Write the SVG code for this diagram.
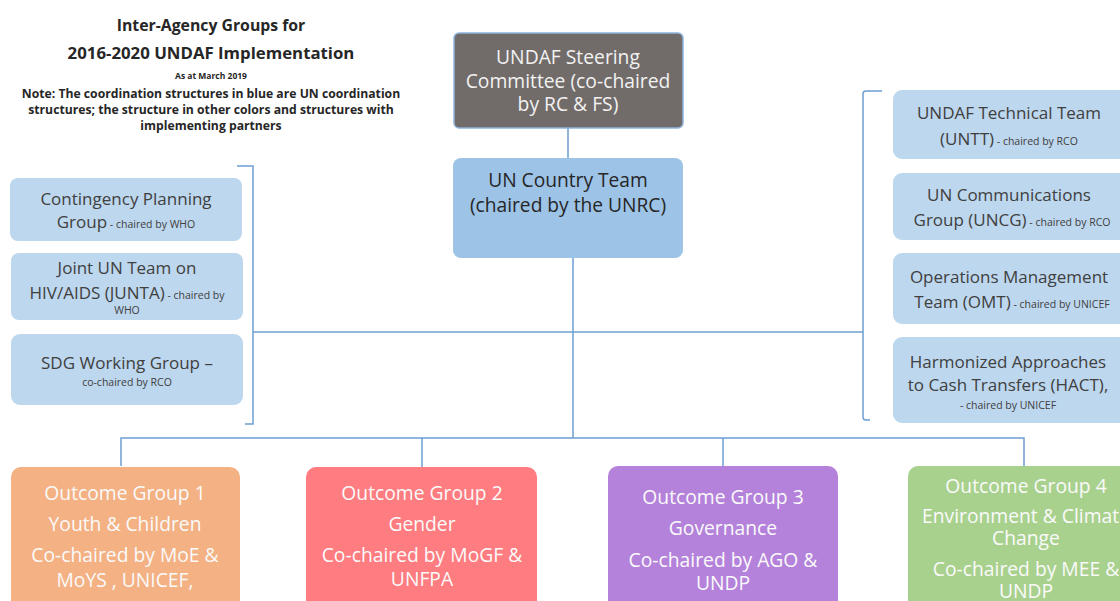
<svg xmlns="http://www.w3.org/2000/svg" width="1120" height="601" viewBox="0 0 1120 601">
<style>
text{font-family:"Open Sans","Noto Sans","Liberation Sans",sans-serif;text-anchor:middle}
.t{font-weight:bold;fill:#262626}
.b{fill:#bdd7ee}
.n{font-size:17px;fill:#404040}
.s{font-size:10.5px;fill:#404040}
.w{fill:#fafafa;font-size:19.3px}
.c{fill:none;stroke:#6e9fd2;stroke-width:1.5}
</style>
<rect width="1120" height="601" fill="#fff"/>
<g id="title">
<text class="t" x="211" y="31" font-size="15.8">Inter-Agency Groups for</text>
<text class="t" x="211" y="59" font-size="16.8">2016-2020 UNDAF Implementation</text>
<text class="t" x="211" y="79" font-size="8.5">As at March 2019</text>
<text class="t" x="211" y="98" font-size="12.2">Note: The coordination structures in blue are UN coordination</text>
<text class="t" x="211" y="114" font-size="12.2">structures; the structure in other colors and structures with</text>
<text class="t" x="211" y="130" font-size="12.2">implementing partners</text>
</g>
<g id="connectors">
<line class="c" x1="568" y1="128" x2="568" y2="158"/>
<line class="c" x1="573" y1="258" x2="573" y2="438"/>
<line class="c" x1="253" y1="332" x2="863" y2="332"/>
<path class="c" d="M237 166 H253 V424 H245"/>
<path class="c" d="M882 91 H866 Q863 91 863 94 V417 Q863 420 866 420 H870"/>
<path class="c" d="M121 466 V438 H1024 V466"/>
<line class="c" x1="422" y1="438" x2="422" y2="467"/>
<line class="c" x1="723" y1="438" x2="723" y2="466"/>
</g>
<g id="steering">
<rect x="454" y="33" width="229" height="95" rx="5" fill="#716b69" stroke="#8fb4de" stroke-width="1.5"/>
<text x="568" y="64" font-size="19.3" fill="#f2f2f2">UNDAF Steering</text>
<text x="568" y="88" font-size="19.3" fill="#f2f2f2">Committee (co-chaired</text>
<text x="568" y="111" font-size="19.3" fill="#f2f2f2">by RC &amp; FS)</text>
</g>
<g id="unct">
<rect x="453" y="158" width="230" height="100" rx="8" fill="#9dc3e6"/>
<text x="568" y="187" font-size="19.2" fill="#262626">UN Country Team</text>
<text x="568" y="212" font-size="19.2" fill="#262626">(chaired by the UNRC)</text>
</g>
<g id="contingency">
<rect class="b" x="10" y="178" width="232" height="63" rx="8"/>
<text class="n" x="126" y="205">Contingency Planning</text>
<text x="126" y="228"><tspan class="n">Group</tspan><tspan class="s"> - chaired by WHO</tspan></text>
</g>
<g id="junta">
<rect class="b" x="11" y="253" width="232" height="67" rx="8"/>
<text class="n" x="127" y="274">Joint UN Team on</text>
<text x="127" y="299"><tspan class="n">HIV/AIDS (JUNTA)</tspan><tspan class="s"> - chaired by</tspan></text>
<text class="s" x="127" y="314">WHO</text>
</g>
<g id="sdg">
<rect class="b" x="11" y="334" width="232" height="71" rx="9"/>
<text class="n" x="127" y="369">SDG Working Group –</text>
<text class="s" x="127" y="386">co-chaired by RCO</text>
</g>
<g id="untt">
<rect class="b" x="893" y="90" width="240" height="69" rx="9"/>
<text class="n" x="1009" y="119">UNDAF Technical Team</text>
<text x="1009" y="145"><tspan class="n">(UNTT)</tspan><tspan class="s">  - chaired by RCO</tspan></text>
</g>
<g id="uncg">
<rect class="b" x="893" y="173" width="240" height="67" rx="9"/>
<text class="n" x="1009" y="201">UN Communications</text>
<text x="1012" y="226"><tspan class="n">Group (UNCG)</tspan><tspan class="s"> - chaired by RCO</tspan></text>
</g>
<g id="omt">
<rect class="b" x="893" y="253" width="240" height="71" rx="9"/>
<text class="n" x="1009" y="283">Operations Management</text>
<text x="1012" y="308"><tspan class="n">Team (OMT)</tspan><tspan class="s"> - chaired by UNICEF</tspan></text>
</g>
<g id="hact">
<rect class="b" x="893" y="337" width="240" height="86" rx="9"/>
<text class="n" x="1008" y="368">Harmonized Approaches</text>
<text class="n" x="1008" y="391">to Cash Transfers (HACT),</text>
<text class="s" x="1008" y="409">- chaired by UNICEF</text>
</g>
<g id="og1">
<rect x="11" y="467" width="229" height="150" rx="10" fill="#f4b183"/>
<text class="w" x="125" y="500">Outcome Group 1</text>
<text class="w" x="125" y="531">Youth &amp; Children</text>
<text class="w" x="125" y="562">Co-chaired by MoE &amp;</text>
<text class="w" x="125" y="587">MoYS , UNICEF,</text>
</g>
<g id="og2">
<rect x="306" y="467" width="231" height="150" rx="10" fill="#ff7c80"/>
<text class="w" x="422" y="500">Outcome Group 2</text>
<text class="w" x="422" y="531">Gender</text>
<text class="w" x="422" y="562">Co-chaired by MoGF &amp;</text>
<text class="w" x="422" y="586">UNFPA</text>
</g>
<g id="og3">
<rect x="608" y="466" width="230" height="150" rx="10" fill="#b482da"/>
<text class="w" x="723" y="504">Outcome Group 3</text>
<text class="w" x="723" y="535">Governance</text>
<text class="w" x="723" y="567">Co-chaired by AGO &amp;</text>
<text class="w" x="723" y="590">UNDP</text>
</g>
<g id="og4">
<rect x="908" y="466" width="230" height="150" rx="10" fill="#a9d18e"/>
<text class="w" x="1026" y="493">Outcome Group 4</text>
<text class="w" x="1026" y="523">Environment &amp; Climate</text>
<text class="w" x="1026" y="545">Change</text>
<text class="w" x="1026" y="576">Co-chaired by MEE &amp;</text>
<text class="w" x="1026" y="598">UNDP</text>
</g>
</svg>
